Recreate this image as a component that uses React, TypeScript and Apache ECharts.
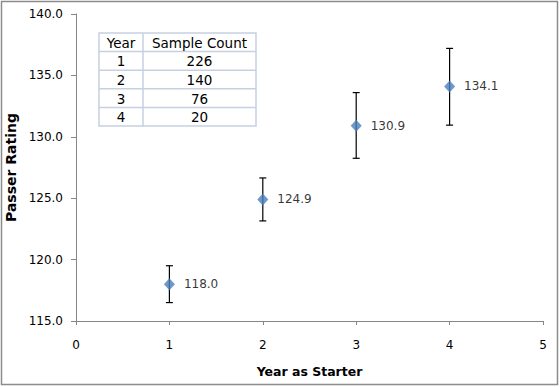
import React, { useEffect, useRef } from "react";
import * as echarts from "echarts";

const years = [1, 2, 3, 4];
const ratings = [118.0, 124.9, 130.9, 134.1];
const errHigh = [119.5, 126.65, 133.6, 137.2];
const errLow = [116.5, 123.15, 128.25, 130.95];
const tableHeader = ["Year", "Sample Count"];
const sampleCounts = [226, 140, 76, 20];

const FONT = "DejaVu Sans";

export default function App() {
  const ref = useRef<HTMLDivElement>(null);
  useEffect(() => {
    document.body.style.margin = "0";
    const chart = echarts.init(ref.current!, undefined, { renderer: "svg" });

    const tx0 = 99, tx1 = 143, tx2 = 256, ty0 = 33, rh = 18.6;
    const border = "#c6d0e2";
    const fontSize = 13.5;
    const tableEls: any[] = [];
    const rows = [[tableHeader[0], tableHeader[1]], ...years.map((y, i) => [String(y), String(sampleCounts[i])])];
    tableEls.push({ type: "rect", shape: { x: tx0, y: ty0, width: tx2 - tx0, height: rh * rows.length }, style: { fill: "#fff", stroke: border, lineWidth: 1.5 } });
    tableEls.push({ type: "line", shape: { x1: tx1, y1: ty0, x2: tx1, y2: ty0 + rh * rows.length }, style: { stroke: border, lineWidth: 1.5 } });
    for (let r = 1; r < rows.length; r++) {
      tableEls.push({ type: "line", shape: { x1: tx0, y1: ty0 + rh * r, x2: tx2, y2: ty0 + rh * r }, style: { stroke: border, lineWidth: 1.5 } });
    }
    rows.forEach((row, r) => {
      const cy = ty0 + rh * r + rh / 2 + 0.5;
      [[tx0, tx1], [tx1, tx2]].forEach(([a, b], c) => {
        tableEls.push({
          type: "text",
          x: (a + b) / 2,
          y: cy,
          style: { text: row[c], fill: "#000", font: `${fontSize}px "${FONT}"`, align: "center", verticalAlign: "middle" },
        });
      });
    });

    chart.setOption({
      animation: false,
      backgroundColor: "#fff",
      grid: { left: 76, right: 17, top: 14, bottom: 66, outerBoundsMode: "none", containLabel: false },
      xAxis: {
        type: "value", min: 0, max: 5, interval: 1,
        name: "Year as Starter", nameLocation: "middle", nameGap: 44,
        nameTextStyle: { fontFamily: FONT, fontWeight: "bold", fontSize: 12.5, color: "#000" },
        axisLine: { show: true, lineStyle: { color: "#868686", width: 1 } },
        axisTick: { show: true, length: 4, lineStyle: { color: "#868686" } },
        axisLabel: { fontFamily: FONT, fontSize: 12, color: "#000", margin: 18 },
        splitLine: { show: false },
      },
      yAxis: {
        type: "value", min: 115, max: 140, interval: 5,
        name: "Passer Rating", nameLocation: "middle", nameGap: 53,
        nameTextStyle: { fontFamily: FONT, fontWeight: "bold", fontSize: 14, color: "#000" },
        axisLine: { show: true, lineStyle: { color: "#868686", width: 1 } },
        axisTick: { show: true, length: 5, lineStyle: { color: "#868686" } },
        axisLabel: { fontFamily: FONT, fontSize: 12, color: "#000", margin: 13, formatter: (v: number) => v.toFixed(1) },
        splitLine: { show: false },
      },
      series: [
        {
          type: "custom",
          data: years.map((y, i) => [y, errLow[i], errHigh[i]]),
          renderItem: (params: any, api: any) => {
            const x = api.value(0);
            const lo = api.coord([x, api.value(1)]);
            const hi = api.coord([x, api.value(2)]);
            const cw = 3.5;
            const st = { stroke: "#000", lineWidth: 1.2 };
            return {
              type: "group",
              children: [
                { type: "line", shape: { x1: lo[0], y1: lo[1], x2: hi[0], y2: hi[1] }, style: st },
                { type: "line", shape: { x1: lo[0] - cw, y1: lo[1], x2: lo[0] + cw, y2: lo[1] }, style: st },
                { type: "line", shape: { x1: hi[0] - cw, y1: hi[1], x2: hi[0] + cw, y2: hi[1] }, style: st },
              ],
            };
          },
          z: 1,
        },
        {
          type: "scatter",
          data: years.map((y, i) => [y, ratings[i]]),
          symbol: "diamond",
          symbolSize: [11, 12],
          itemStyle: { color: "#4a7ebb" },
          label: {
            show: true, position: "right", distance: 9,
            fontFamily: FONT, fontSize: 12, color: "#000",
            formatter: (p: any) => p.value[1].toFixed(1),
          },
          z: 3,
        },
      ],
      graphic: [
        { type: "rect", shape: { x: 1.5, y: 1.5, width: 556, height: 383 }, style: { fill: "none", stroke: "#8c8c8c", lineWidth: 1.5 }, silent: true },
        ...tableEls,
      ],
    });
    return () => chart.dispose();
  }, []);
  return <div ref={ref} style={{ width: 560, height: 387 }} />;
}
